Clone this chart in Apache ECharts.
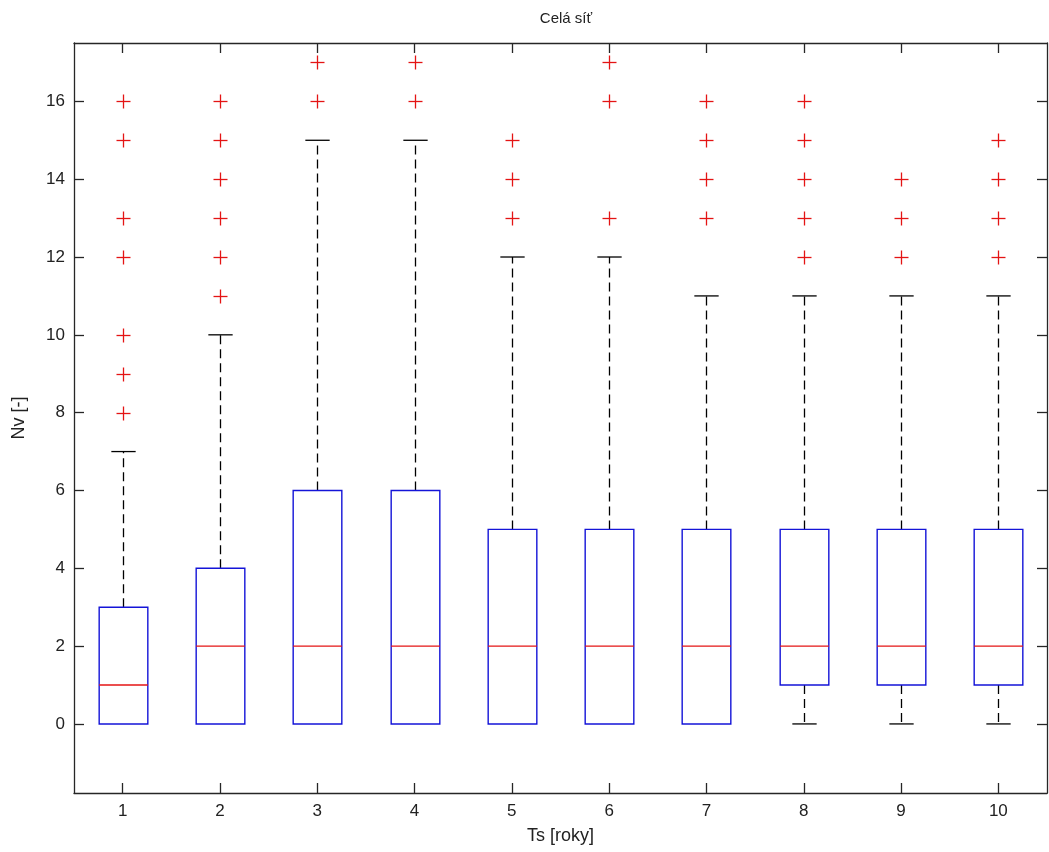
<!DOCTYPE html>
<html>
<head>
<meta charset="utf-8">
<script src="https://cdn.jsdelivr.net/npm/echarts@6/dist/echarts.min.js"></script>
<style>
  html, body { margin: 0; padding: 0; background: #fff; }
  #chart { width: 1049px; height: 852px; }
</style>
</head>
<body>
<div id="chart"></div>
<script>
// Service period groups (years)
const categories = [1, 2, 3, 4, 5, 6, 7, 8, 9, 10];
// Box statistics per group
const whiskerLow  = [0, 0, 0, 0, 0, 0, 0, 0, 0, 0];
const quartile1   = [0, 0, 0, 0, 0, 0, 0, 1, 1, 1];
const medians     = [1, 2, 2, 2, 2, 2, 2, 2, 2, 2];
const quartile3   = [3, 4, 6, 6, 5, 5, 5, 5, 5, 5];
const whiskerHigh = [7, 10, 15, 15, 12, 12, 11, 11, 11, 11];
// Outlying values per group
const outliers = [
  [8, 9, 10, 12, 13, 15, 16],
  [11, 12, 13, 14, 15, 16],
  [16, 17],
  [16, 17],
  [13, 14, 15],
  [13, 16, 17],
  [13, 14, 15, 16],
  [12, 13, 14, 15, 16],
  [12, 13, 14],
  [12, 13, 14, 15]
];
const yTicks = [0, 2, 4, 6, 8, 10, 12, 14, 16];

const boxData = categories.map((c, i) =>
  [c, whiskerLow[i], quartile1[i], medians[i], quartile3[i], whiskerHigh[i]]);
const outlierData = [];
categories.forEach((c, i) => outliers[i].forEach(v => outlierData.push([c, v])));

const BOX_W = 0.5, CAP_W = 0.25;
const frameColor = '#262626';
const textColor = '#222';
const font = 'Liberation Sans, Arial, sans-serif';

function renderBox(params, api) {
  const x = api.value(0);
  const lo = api.coord([x, api.value(1)]);
  const q1 = api.coord([x, api.value(2)]);
  const md = api.coord([x, api.value(3)]);
  const q3 = api.coord([x, api.value(4)]);
  const hi = api.coord([x, api.value(5)]);
  const bw = api.size([BOX_W, 0])[0];
  const cw = api.size([CAP_W, 0])[0];
  const cx = Math.round(lo[0]) + 0.5;
  const children = [];
  const dashed = { stroke: '#000', lineWidth: 1.3, lineDash: [9, 5], fill: null };
  const solid = { stroke: '#000', lineWidth: 1.3, fill: null };
  // upper whisker and cap
  if (hi[1] < q3[1]) {
    children.push({ type: 'line', shape: { x1: cx, y1: q3[1], x2: cx, y2: hi[1] }, style: dashed });
    children.push({ type: 'line', shape: { x1: cx - cw / 2, y1: hi[1], x2: cx + cw / 2, y2: hi[1] }, style: solid });
  }
  // lower whisker and cap
  if (lo[1] > q1[1]) {
    children.push({ type: 'line', shape: { x1: cx, y1: q1[1], x2: cx, y2: lo[1] }, style: dashed });
    children.push({ type: 'line', shape: { x1: cx - cw / 2, y1: lo[1], x2: cx + cw / 2, y2: lo[1] }, style: solid });
  }
  // interquartile box
  children.push({
    type: 'rect',
    shape: { x: cx - bw / 2, y: q3[1], width: bw, height: q1[1] - q3[1] },
    style: { stroke: '#1414d8', lineWidth: 1.4, fill: null }
  });
  // median
  children.push({
    type: 'line',
    shape: { x1: cx - bw / 2, y1: md[1], x2: cx + bw / 2, y2: md[1] },
    style: { stroke: '#e41414', lineWidth: 1.3 }
  });
  return { type: 'group', children };
}

function renderPlus(params, api) {
  const p = api.coord([api.value(0), api.value(1)]);
  const h = 7;
  const x = Math.round(p[0]) + 0.5, y = Math.round(p[1]) + 0.5;
  const st = { stroke: '#e41414', lineWidth: 1.3 };
  return {
    type: 'group',
    children: [
      { type: 'line', shape: { x1: x - h, y1: y, x2: x + h, y2: y }, style: st },
      { type: 'line', shape: { x1: x, y1: y - h, x2: x, y2: y + h }, style: st }
    ]
  };
}

const chart = echarts.init(document.getElementById('chart'), null, { renderer: 'canvas' });

const xBase = {
  type: 'value', min: 0.5, max: 10.5,
  splitLine: { show: false },
  axisLine: { show: true, onZero: false, lineStyle: { color: frameColor, width: 1.3 } }
};
const yBase = {
  type: 'value', min: -1.775, max: 17.5,
  splitLine: { show: false },
  axisLine: { show: true, onZero: false, lineStyle: { color: frameColor, width: 1.3 } }
};
const tickStyle = { color: frameColor, width: 1.3 };
const labelText = { fontFamily: font, fontSize: 17, color: textColor };
const nameText = { fontFamily: font, fontSize: 18, color: textColor };

chart.setOption({
  animation: false,
  backgroundColor: '#fff',
  title: {
    text: 'Celá síť',
    left: 561, top: 6, textAlign: 'center',
    textStyle: { fontFamily: font, fontSize: 15, fontWeight: 'normal', color: textColor }
  },
  grid: { left: 74, top: 43, right: 2, bottom: 59 },
  xAxis: [
    Object.assign({}, xBase, {
      position: 'bottom',
      name: 'Ts [roky]', nameLocation: 'middle', nameGap: 34,
      nameTextStyle: nameText,
      axisTick: { show: true, inside: true, length: 10, customValues: categories, lineStyle: tickStyle },
      axisLabel: Object.assign({ show: true, margin: 10, customValues: categories }, labelText)
    }),
    Object.assign({}, xBase, {
      position: 'top',
      axisTick: { show: true, inside: true, length: 10, customValues: categories, lineStyle: tickStyle },
      axisLabel: { show: false }
    })
  ],
  yAxis: [
    Object.assign({}, yBase, {
      position: 'left',
      name: 'Nv [-]', nameLocation: 'middle', nameGap: 46,
      nameTextStyle: nameText,
      axisTick: { show: true, inside: true, length: 10, customValues: yTicks, lineStyle: tickStyle },
      axisLabel: Object.assign({ show: true, margin: 9, customValues: yTicks }, labelText)
    }),
    Object.assign({}, yBase, {
      position: 'right',
      axisTick: { show: true, inside: true, length: 10, customValues: yTicks, lineStyle: tickStyle },
      axisLabel: { show: false }
    })
  ],
  series: [
    {
      type: 'custom', name: 'box',
      xAxisIndex: 0, yAxisIndex: 0,
      renderItem: renderBox,
      encode: { x: 0, y: [1, 2, 3, 4, 5] },
      data: boxData,
      clip: true
    },
    {
      type: 'custom', name: 'outliers',
      xAxisIndex: 0, yAxisIndex: 0,
      renderItem: renderPlus,
      encode: { x: 0, y: 1 },
      data: outlierData,
      clip: true
    }
  ]
});
</script>
</body>
</html>
